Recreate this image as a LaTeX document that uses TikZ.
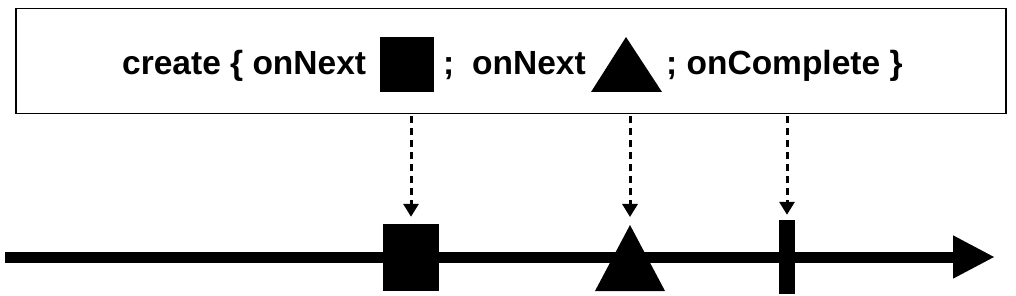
\documentclass[tikz,border=0pt]{standalone}
\usepackage{fontspec}
\setmainfont{Liberation Sans}
\usetikzlibrary{arrows.meta}
\begin{document}
\begin{tikzpicture}[x=1pt,y=-1pt,
  lbl/.style={font=\fontsize{33.5}{36}\selectfont\bfseries, inner sep=0pt, anchor=base west},
  fillshape/.style={fill=black, draw=none},
  feed/.style={line width=3pt, dash pattern=on 7pt off 5pt, -{Triangle[width=15pt,length=13pt]}, shorten <=2pt}]
\useasboundingbox (0,0) rectangle (1016,296);
% source box
\node[draw, line width=1.5pt, minimum width=990pt, minimum height=105pt, inner sep=0pt, anchor=north west] (box) at (15,8) {};
% text pieces
\node[lbl] (t1) at (122,75) {create \{ onNext};
\node[fillshape, minimum width=54pt, minimum height=55pt, inner sep=0pt, anchor=north west] (sq) at (380,37) {};
\node[lbl] (t2) at (443,75) {;};
\node[lbl] (t3) at (472,75) {onNext};
\path[fillshape] (626,37) coordinate (tA) -- (662,92) coordinate (tB) -- (591,92) coordinate (tC) -- cycle;
\node[lbl] (t4) at (666,75) {; onComplete \}};
% timeline
\coordinate (tlstart) at (5,257);
\coordinate (tlend) at (995,257);
\draw[line width=11pt, -{Triangle[width=40pt,length=42pt]}] (tlstart) -- (tlend);
% events
\node[fillshape, minimum width=56pt, minimum height=67pt, inner sep=0pt] (evsq) at (411,257.5) {};
\path[fillshape] (630,225) coordinate (evtri) -- (665,291) -- (595,291) -- cycle;
\node[fillshape, minimum width=16pt, minimum height=74pt, inner sep=0pt] (evbar) at (787,257) {};
% feeds
\draw[feed, shorten >=7pt] (box.south -| evsq.north) -- (evsq.north);
\draw[feed, shorten >=8pt] (box.south -| evtri) -- (evtri);
\draw[feed, shorten >=5pt] (box.south -| evbar.north) -- (evbar.north);
\end{tikzpicture}
\end{document}
